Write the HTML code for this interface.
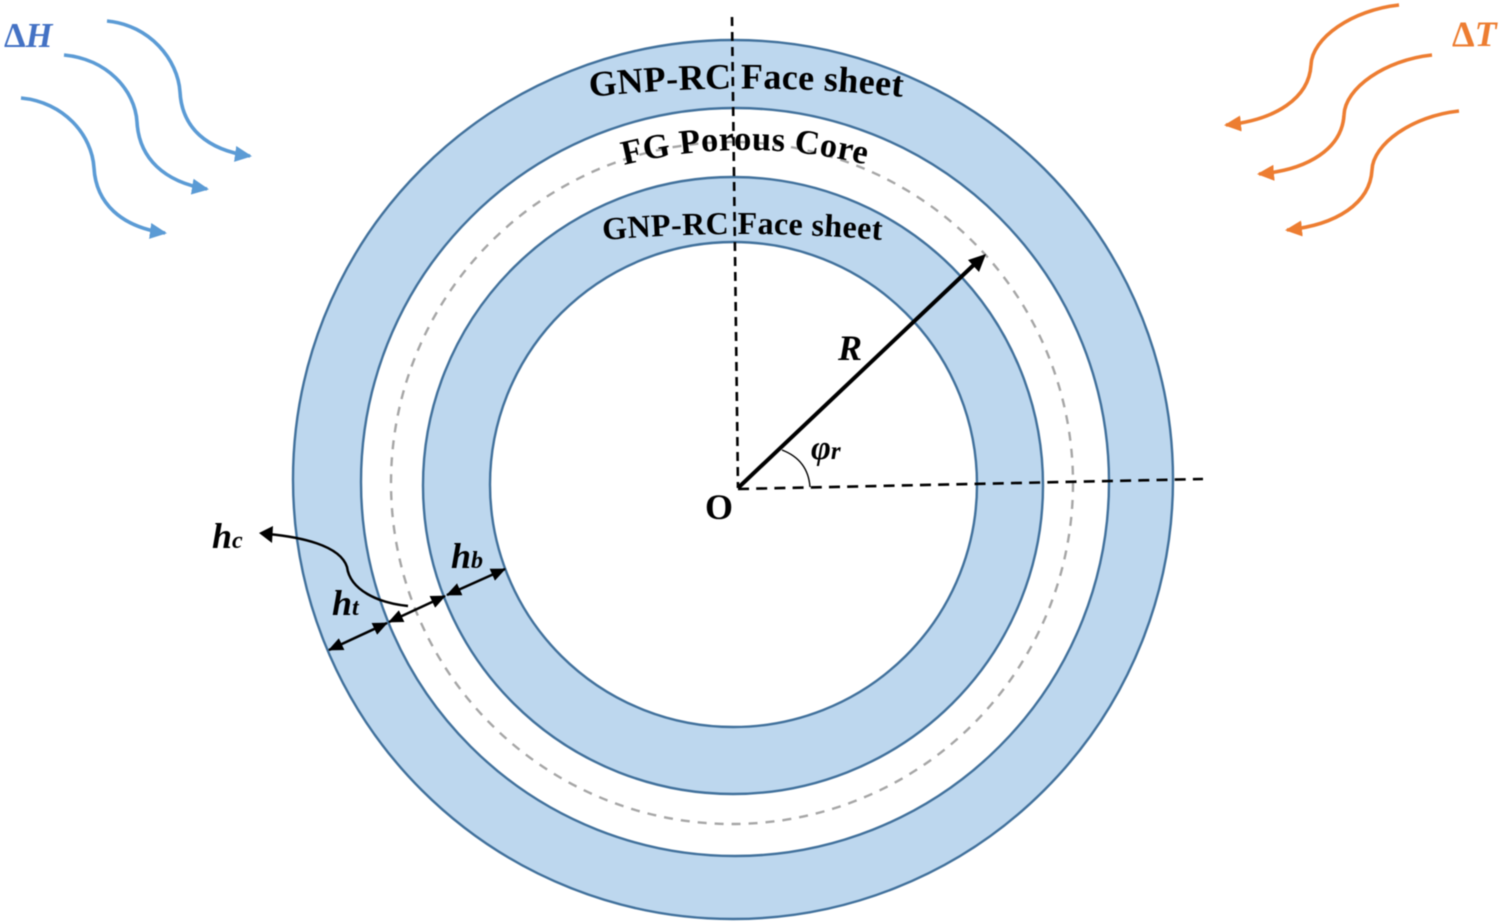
<!DOCTYPE html>
<html><head><meta charset="utf-8"><style>
html,body{margin:0;padding:0;background:#fff;width:1502px;height:924px;overflow:hidden}
svg{display:block;filter:blur(0.45px)}
text{font-family:"Liberation Serif",serif;font-weight:bold}
.i{font-style:italic}
</style></head><body>
<svg width="1502" height="924" viewBox="0 0 1502 924" xmlns="http://www.w3.org/2000/svg">
<defs>
<path id="p1" d="M590,97 Q746,80 903,97"/>
<path id="p2" d="M624,165 Q745,135 868,165"/>
<path id="p3" d="M603,240 Q742,228 882,240"/>
<marker id="bk" markerWidth="15" markerHeight="13" refX="14" refY="6.5" orient="auto-start-reverse" markerUnits="userSpaceOnUse"><path d="M0,0L15,6.5L0,13Z" fill="#000"/></marker>
<marker id="bl" markerWidth="17" markerHeight="16" refX="15" refY="8" orient="auto" markerUnits="userSpaceOnUse"><path d="M0,0L17,8L0,16Z" fill="#5b9bd5"/></marker>
<marker id="or" markerWidth="17" markerHeight="16" refX="15" refY="8" orient="auto" markerUnits="userSpaceOnUse"><path d="M0,0L17,8L0,16Z" fill="#ed7d31"/></marker>
</defs>
<ellipse cx="733" cy="479.5" rx="440" ry="439.5" fill="#bdd7ee" stroke="#41719c" stroke-width="2.4"/>
<ellipse cx="735" cy="482" rx="374" ry="374" fill="#fff" stroke="#41719c" stroke-width="2.4"/>
<ellipse cx="732" cy="483" rx="341" ry="341" fill="none" stroke="#a6a6a6" stroke-width="2.4" stroke-dasharray="9 8"/>
<ellipse cx="733" cy="485.5" rx="310" ry="308.5" fill="#bdd7ee" stroke="#41719c" stroke-width="2.4"/>
<ellipse cx="733.5" cy="484.5" rx="243.5" ry="242.5" fill="#fff" stroke="#41719c" stroke-width="2.4"/>

<line x1="732" y1="17" x2="738" y2="488" stroke="#000" stroke-width="2.6" stroke-dasharray="9 6"/>
<line x1="738" y1="489" x2="1203" y2="479" stroke="#000" stroke-width="2.6" stroke-dasharray="11 7.2"/>
<line x1="738" y1="488" x2="980" y2="259" stroke="#000" stroke-width="4"/>
<path d="M986,254L968,260L979,272Z" fill="#000"/>
<path d="M782,450Q808,460 810,487" fill="none" stroke="#000" stroke-width="1.4"/>

<path d="M408,606C378,603 350,590 347,567C340,545 300,537 268,534" fill="none" stroke="#000" stroke-width="2.5"/>
<path d="M259,533L273,526L272,543Z" fill="#000"/>
<line x1="329" y1="650" x2="387" y2="623" stroke="#000" stroke-width="2.6" marker-start="url(#bk)" marker-end="url(#bk)"/>
<line x1="389" y1="622" x2="445" y2="596" stroke="#000" stroke-width="2.6" marker-start="url(#bk)" marker-end="url(#bk)"/>
<line x1="447" y1="595" x2="505" y2="569" stroke="#000" stroke-width="2.6" marker-start="url(#bk)" marker-end="url(#bk)"/>

<g fill="none" stroke="#5b9bd5" stroke-width="3.6">
<path d="M107,21C150,25 178,60 180,92C182,128 207,150 250,156" marker-end="url(#bl)"/>
<path d="M64,55C107,59 135,90 137,122C139,158 164,182 207,189" marker-end="url(#bl)"/>
<path d="M21,98C64,102 92,135 94,168C96,203 121,227 165,233" marker-end="url(#bl)"/>
</g>
<g fill="none" stroke="#ed7d31" stroke-width="3.6">
<path d="M1399,5C1352,10 1312,38 1311,65C1309,98 1276,120 1226,125" marker-end="url(#or)"/>
<path d="M1432,55C1385,60 1345,88 1344,115C1342,148 1309,170 1259,174" marker-end="url(#or)"/>
<path d="M1459,111C1412,116 1373,144 1372,170C1370,203 1337,225 1287,230" marker-end="url(#or)"/>
</g>

<text font-size="36" fill="#000"><textPath href="#p1" textLength="313" lengthAdjust="spacing">GNP-RC Face sheet</textPath></text>
<text font-size="34.5" fill="#000"><textPath href="#p2" textLength="244" lengthAdjust="spacing">FG Porous Core</textPath></text>
<text font-size="32" fill="#000"><textPath href="#p3" textLength="279" lengthAdjust="spacing">GNP-RC Face sheet</textPath></text>

<text x="4" y="47" font-size="34.5" fill="#4472c4">Δ<tspan class="i">H</tspan></text>
<text x="1452" y="46" font-size="36" fill="#ed7d31">Δ<tspan class="i">T</tspan></text>
<text x="705" y="519" font-size="36" fill="#000">O</text>
<text x="838" y="360" font-size="36" class="i" fill="#000">R</text>
<text x="811" y="459" font-size="34" class="i" fill="#000">φ<tspan font-size="25">r</tspan></text>
<text x="212" y="548" font-size="36" class="i" fill="#000">h<tspan font-size="24">c</tspan></text>
<text x="332" y="615" font-size="36" class="i" fill="#000">h<tspan font-size="24">t</tspan></text>
<text x="451" y="568" font-size="36" class="i" fill="#000">h<tspan font-size="24">b</tspan></text>
</svg>
</body></html>
